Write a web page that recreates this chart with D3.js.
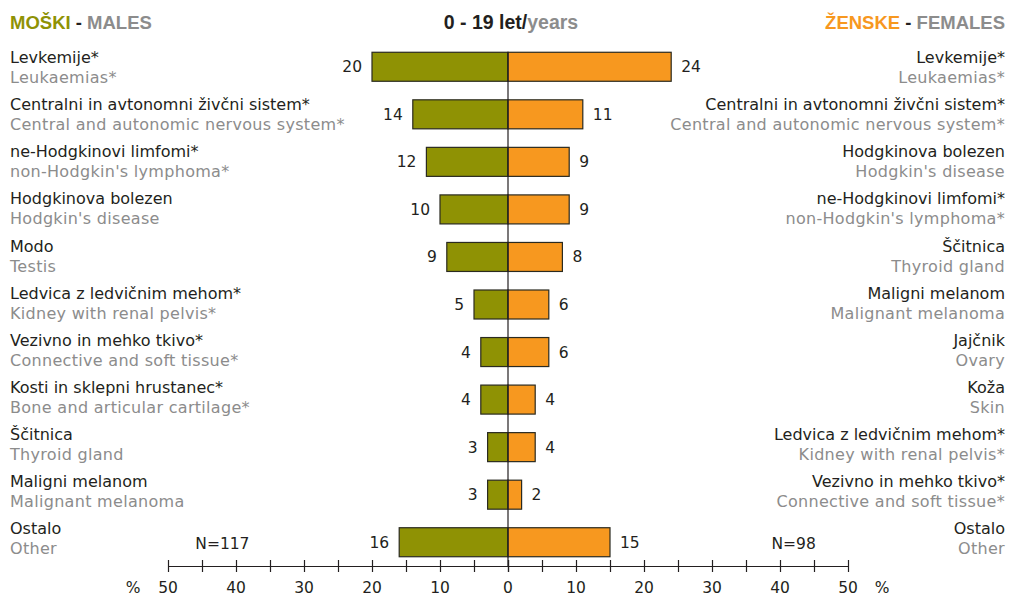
<!DOCTYPE html>
<html><head><meta charset="utf-8">
<script src="https://cdn.jsdelivr.net/npm/d3@7"></script>
<style>body{margin:0;background:#fff}svg{display:block}text{font-family:"DejaVu Sans",sans-serif}</style>
</head><body>
<svg id="c" width="1011" height="596"></svg>
<script>
const maleSl = ["Levkemije*","Centralni in avtonomni živčni sistem*","ne-Hodgkinovi limfomi*","Hodgkinova bolezen","Modo","Ledvica z ledvičnim mehom*","Vezivno in mehko tkivo*","Kosti in sklepni hrustanec*","Ščitnica","Maligni melanom","Ostalo"];
const maleEn = ["Leukaemias*","Central and autonomic nervous system*","non-Hodgkin's lymphoma*","Hodgkin's disease","Testis","Kidney with renal pelvis*","Connective and soft tissue*","Bone and articular cartilage*","Thyroid gland","Malignant melanoma","Other"];
const maleVal = [20,14,12,10,9,5,4,4,3,3,16];
const femSl = ["Levkemije*","Centralni in avtonomni živčni sistem*","Hodgkinova bolezen","ne-Hodgkinovi limfomi*","Ščitnica","Maligni melanom","Jajčnik","Koža","Ledvica z ledvičnim mehom*","Vezivno in mehko tkivo*","Ostalo"];
const femEn = ["Leukaemias*","Central and autonomic nervous system*","Hodgkin's disease","non-Hodgkin's lymphoma*","Thyroid gland","Malignant melanoma","Ovary","Skin","Kidney with renal pelvis*","Connective and soft tissue*","Other"];
const femVal = [24,11,9,9,8,6,6,4,4,2,15];
const tickVals = [0,5,10,15,20,25,30,35,40,45,50];
const tickLabelsL = [0,10,20,30,40,50];
const tickLabelsR = [10,20,30,40,50];
const maleN = "N=117", femN = "N=98";

const svg = d3.select("#c");
const olive = "#8f9204", orange = "#f7981f", dark = "#231f20", gray = "#8c8c8c";
const cx = 508;
const xL = d3.scaleLinear().domain([0,50]).range([cx,168]);
const xR = d3.scaleLinear().domain([0,50]).range([cx,848]);
const idx = d3.range(maleVal.length);
const y = d3.scaleBand().domain(idx).range([43,566]).paddingInner(0.39).paddingOuter(0.195);
const yLab = d3.scaleBand().domain(idx).range([43,561]).paddingInner(0.39).paddingOuter(0.195);
const fs = 16;
const hf = "'Liberation Sans',Arial,sans-serif";

// header
const h = svg.append("text").attr("x",10).attr("y",29).attr("font-size",18.5).attr("font-weight","bold").style("font-family",hf);
h.append("tspan").attr("fill",olive).text("MOŠKI");
h.append("tspan").attr("fill",dark).text(" - ");
h.append("tspan").attr("fill",gray).text("MALES");
const t = svg.append("text").attr("x",cx+3).attr("y",29).attr("text-anchor","middle").attr("font-size",19.5).attr("font-weight","bold").style("font-family",hf);
t.append("tspan").attr("fill",dark).text("0 - 19 let/");
t.append("tspan").attr("fill",gray).text("years");
const hr = svg.append("text").attr("x",1005).attr("y",29).attr("text-anchor","end").attr("font-size",18.5).attr("font-weight","bold").style("font-family",hf);
hr.append("tspan").attr("fill",orange).text("ŽENSKE");
hr.append("tspan").attr("fill",dark).text(" - ");
hr.append("tspan").attr("fill",gray).text("FEMALES");

// labels
idx.forEach(i=>{
  const yb = yLab(i);
  svg.append("text").attr("x",10).attr("y",yb+11).attr("font-size",fs).attr("fill",dark).text(maleSl[i]);
  svg.append("text").attr("x",10).attr("y",yb+31).attr("font-size",fs).attr("letter-spacing",0.3).attr("fill",gray).text(maleEn[i]);
  svg.append("text").attr("x",1005).attr("y",yb+11).attr("text-anchor","end").attr("font-size",fs).attr("fill",dark).text(femSl[i]);
  svg.append("text").attr("x",1005).attr("y",yb+31).attr("text-anchor","end").attr("font-size",fs).attr("letter-spacing",0.3).attr("fill",gray).text(femEn[i]);
});

// bars
svg.append("g").selectAll("rect").data(idx).join("rect")
  .attr("x",i=>xL(maleVal[i])).attr("y",i=>y(i)).attr("width",i=>cx-xL(maleVal[i])).attr("height",y.bandwidth())
  .attr("fill",olive).attr("stroke","#2a2a20").attr("stroke-width",1.2);
svg.append("g").selectAll("rect").data(idx).join("rect")
  .attr("x",cx).attr("y",i=>y(i)).attr("width",i=>xR(femVal[i])-cx).attr("height",y.bandwidth())
  .attr("fill",orange).attr("stroke","#2a2a20").attr("stroke-width",1.2);

// values
svg.append("g").selectAll("text").data(idx).join("text")
  .attr("x",i=>xL(maleVal[i])-10).attr("y",i=>y(i)+y.bandwidth()/2+5.5).attr("text-anchor","end")
  .attr("font-size",15.5).attr("fill",dark).text(i=>maleVal[i]);
svg.append("g").selectAll("text").data(idx).join("text")
  .attr("x",i=>xR(femVal[i])+10).attr("y",i=>y(i)+y.bandwidth()/2+5.5)
  .attr("font-size",15.5).attr("fill",dark).text(i=>femVal[i]);

// center line
svg.append("line").attr("x1",cx).attr("x2",cx).attr("y1",y(0)).attr("y2",566).attr("stroke",dark).attr("stroke-width",1.2);

// axes
const axY = 566;
const gL = svg.append("g").attr("transform",`translate(0,${axY})`)
  .call(d3.axisBottom(xL).tickValues(tickVals).tickSize(0).tickFormat(""));
const gR = svg.append("g").attr("transform",`translate(0,${axY})`)
  .call(d3.axisBottom(xR).tickValues(tickVals).tickSize(0).tickFormat(""));
[gL,gR].forEach(g=>{
  g.select(".domain").attr("stroke",dark).attr("stroke-width",1.2);
  g.selectAll(".tick line").attr("y1",-6).attr("y2",6).attr("stroke",dark).attr("stroke-width",1.2);
});
[[xL,tickLabelsL],[xR,tickLabelsR]].forEach(([sc,lab])=>{
  svg.append("g").selectAll("text").data(lab).join("text")
    .attr("x",d=>sc(d)).attr("y",593).attr("text-anchor","middle").attr("font-size",15.5).attr("fill",dark).text(d=>d);
});
svg.append("text").attr("x",133).attr("y",593).attr("text-anchor","middle").attr("font-size",15.5).attr("fill",dark).text("%");
svg.append("text").attr("x",882).attr("y",593).attr("text-anchor","middle").attr("font-size",15.5).attr("fill",dark).text("%");
svg.append("text").attr("x",xL(42)).attr("y",549).attr("text-anchor","middle").attr("font-size",15.5).attr("fill",dark).text(maleN);
svg.append("text").attr("x",xR(42)).attr("y",549).attr("text-anchor","middle").attr("font-size",15.5).attr("fill",dark).text(femN);
</script>
</body></html>
